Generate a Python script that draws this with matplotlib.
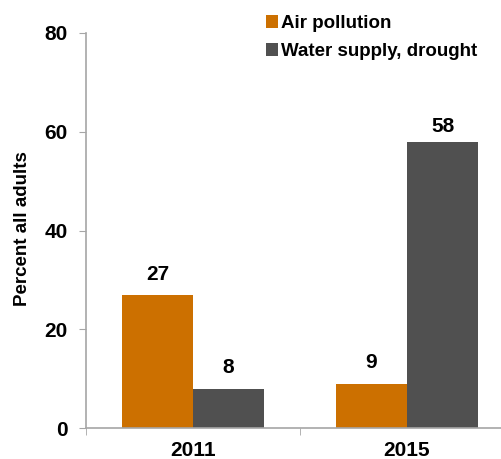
import matplotlib
matplotlib.use('Agg')
import matplotlib.pyplot as plt
import numpy as np

plt.rcParams['font.family'] = ['Liberation Sans', 'DejaVu Sans']
plt.rcParams['font.weight'] = 'bold'

# ==================== DATA ====================
years = ['2011', '2015']
air_pollution = [27, 9]
water_supply = [8, 58]
series_names = ['Air pollution', 'Water supply, drought']
yticks = [0, 20, 40, 60, 80]

orange = '#CC7000'
grey = '#505050'
axis_grey = '#A6A6A6'

# ==================== CHART ====================
fig = plt.figure(figsize=(5.02, 4.59), dpi=100)
ax = fig.add_axes([86 / 502, 31 / 459, 428 / 502, 395 / 459])

x = np.arange(len(years))
w = 0.333
b1 = ax.bar(x - w / 2, air_pollution, w, color=orange, label=series_names[0])
b2 = ax.bar(x + w / 2, water_supply, w, color=grey, label=series_names[1])

for bars in (b1, b2):
    for rect in bars:
        h = rect.get_height()
        # tallest label sits a bit closer to its bar, as in the original
        off = 4 if h > 50 else 8
        ax.annotate(f'{h:.0f}',
                    (rect.get_x() + rect.get_width() / 2, h),
                    xytext=(0, off), textcoords='offset points',
                    ha='center', va='bottom', fontsize=15, fontweight='bold')

ax.set_xlim(-0.5, 1.5)
ax.set_ylim(0, 80)
ax.set_yticks(yticks)
ax.set_yticklabels([str(t) for t in yticks], fontsize=15, fontweight='bold')
ax.set_xticks(x)
ax.set_xticklabels(years, fontsize=15, fontweight='bold')
ax.set_xticks([-0.5, 0.5, 1.5], minor=True)
ax.tick_params(axis='x', which='major', length=0, pad=9)
ax.tick_params(axis='x', which='minor', length=5, color=axis_grey, direction='out')
ax.tick_params(axis='y', length=5, color=axis_grey, pad=8)

for s in ('top', 'right'):
    ax.spines[s].set_visible(False)
for s in ('left', 'bottom'):
    ax.spines[s].set_color(axis_grey)
    ax.spines[s].set_linewidth(1.2)

ax.set_ylabel('Percent all adults', fontsize=13.5, fontweight='bold')
ax.yaxis.set_label_coords(-0.128, 0.504)

leg = fig.legend(loc='upper left', bbox_to_anchor=(266 / 502, 1 - 15 / 459), frameon=False,
                 fontsize=13.5, handlelength=0.65, handleheight=0.65, handletextpad=0.15,
                 labelspacing=0.6, borderaxespad=0, borderpad=0)
for t in leg.get_texts():
    t.set_fontweight('bold')

fig.savefig('out.png', dpi=100, facecolor='white')
